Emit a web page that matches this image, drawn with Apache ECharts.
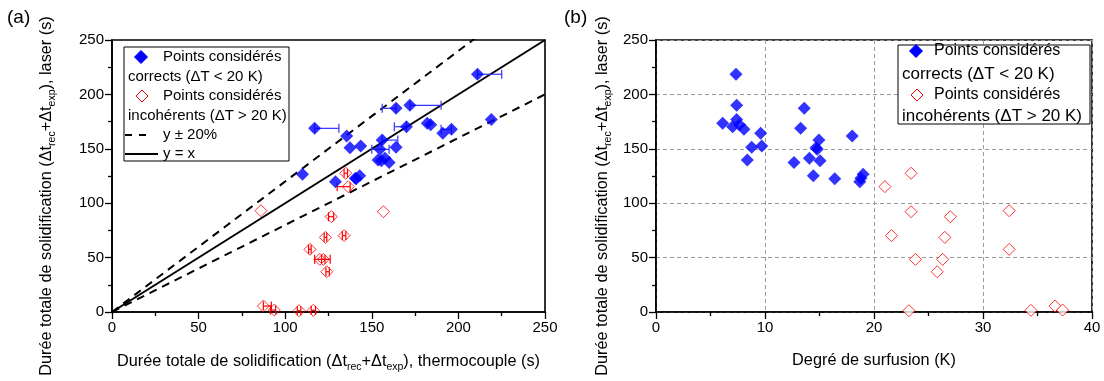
<!DOCTYPE html>
<html><head><meta charset="utf-8">
<script src="https://cdn.jsdelivr.net/npm/echarts/dist/echarts.min.js"></script>
<style>html,body{margin:0;padding:0;background:#fff}#c{width:1104px;height:381px}</style>
</head><body><div id="c"></div>
<script>
// ---- Data ----
// Blue: points considered correct (ΔT < 20 K)
const blueTc    = [211, 172, 164, 219, 182, 184, 170, 117, 196, 191, 135.5, 156, 143.6, 164, 137.4, 154.7, 157.6, 153.6, 160, 155.5, 110, 143, 141, 129, 140.5];
const blueLaser = [218.5, 190, 187.2, 177, 173.4, 172, 170.3, 168.8, 167.9, 164.2, 161.8, 158, 152.5, 151.4, 151, 149.5, 141.2, 139.7, 137.5, 139.1, 126.6, 125.3, 122.5, 119.8, 122.9];
const blueDT    = [7.34, 7.4, 13.6, 7.4, 6.12, 7.65, 7.03, 13.27, 8.07, 9.6, 18.0, 14.95, 9.7, 8.78, 14.68, 14.8, 14.07, 8.38, 12.66, 15.05, 19.0, 14.43, 16.4, 18.7, 18.8];
// horizontal error bars on thermocouple duration [low, high, laser]
const blueErrLow  = [211, 172, 156, 170, 117, 190, 156, 150];
const blueErrHigh = [225, 190, 164, 163, 131, 196, 165, 160];
const blueErrY    = [218.5, 190, 187.2, 170.3, 168.8, 167.9, 158, 149.5];
// Red: points considered incoherent (ΔT > 20 K)
const redTc    = [135, 136.4, 86, 156.7, 126.6, 134, 123.2, 114.3, 120, 122, 124, 87.4, 93.7, 108, 116.2];
const redLaser = [127.5, 115.2, 93.1, 92.2, 87.6, 70.2, 68.6, 57.6, 48.4, 48.4, 37, 5.5, 1.8, 1.2, 1.5];
const redDT    = [23.4, 21.0, 32.4, 23.4, 27.0, 21.6, 26.5, 32.4, 23.8, 26.3, 25.8, 36.6, 37.3, 23.2, 34.4];
const redErrLow  = [134, 130, 125, 133, 122.5, 113.5, 117, 121, 123.5, 87.4, 91.5, 107, 115];
const redErrHigh = [136, 137.5, 128, 135, 124, 115, 126, 123, 125.5, 92, 94.5, 109, 117.5];
const redErrY    = [127.5, 115.2, 87.6, 70.2, 68.6, 57.6, 48.4, 48.4, 37, 5.5, 1.8, 1.2, 1.5];
// Reference lines y = x and y ± 20 %
const refX = [0, 250];
const refSlopes = [1, 1.2, 0.8];
// Axis ranges / ticks
const leftRange = [0, 250, 50];
const rightXRange = [0, 40, 10];
const yRange = [0, 250, 50];

const FONT = 'Liberation Sans, Arial, sans-serif';
const BLUE = '#0000ff', RED = '#ff0000';

const zip = (a, b) => a.map((v, i) => [v, b[i]]);
const zip3 = (a, b, c) => a.map((v, i) => [v, b[i], c[i]]);

const richName = {
  n: {fontSize: 16.3, fontFamily: FONT, color: '#000', lineHeight: 22},
  s: {fontSize: 10.5, fontFamily: FONT, color: '#000', lineHeight: 10, verticalAlign: 'bottom'}
};
const durName = (tail) => '{n|Durée totale de solidification (Δt}{s|rec}{n|+Δt}{s|exp}{n|), ' + tail + '}';

function axis(gridIndex, range, extra, grid) {
  return Object.assign({
    type: 'value', gridIndex, min: range[0], max: range[1], interval: range[2],
    axisLine: {show: true, onZero: false, lineStyle: {color: '#000', width: 1.6}},
    axisTick: {show: true, inside: false, length: 7, lineStyle: {color: '#000', width: 1.3}},
    minorTick: {show: true, splitNumber: 2, length: 4, lineStyle: {color: '#000', width: 1.3}},
    axisLabel: {fontSize: 15, color: '#000', fontFamily: FONT, margin: 8},
    splitLine: grid ? {show: true, lineStyle: {color: '#999', type: [4, 3], width: 1}} : {show: false},
    minorSplitLine: {show: false}
  }, extra);
}

function errRender(color) {
  return function (params, api) {
    const y = api.value(2);
    const p1 = api.coord([api.value(0), y]);
    const p2 = api.coord([api.value(1), y]);
    const h = 4.5;
    const st = {stroke: color, lineWidth: 1.2};
    return {type: 'group', children: [
      {type: 'line', shape: {x1: p1[0], y1: p1[1], x2: p2[0], y2: p2[1]}, style: st},
      {type: 'line', shape: {x1: p1[0], y1: p1[1] - h, x2: p1[0], y2: p1[1] + h}, style: st},
      {type: 'line', shape: {x1: p2[0], y1: p2[1] - h, x2: p2[0], y2: p2[1] + h}, style: st}
    ]};
  };
}

function diamond(cx, cy, r, fill, stroke) {
  return {type: 'polygon', shape: {points: [[cx, cy - r], [cx + r, cy], [cx, cy + r], [cx - r, cy]]},
    style: {fill: fill, stroke: stroke, lineWidth: 1}, z: 100};
}
function txt(x, y, s, size) {
  return {type: 'text', x: x, y: y, z: 100,
    style: {text: s, fontSize: size || 15, fontFamily: FONT, fill: '#000', verticalAlign: 'middle', align: 'left'}};
}
function line(x1, y1, x2, y2, dash) {
  return {type: 'line', z: 100, shape: {x1, y1, x2, y2}, style: {stroke: '#000', lineWidth: 2, lineDash: dash || null}};
}

const chart = echarts.init(document.getElementById('c'), null, {renderer: 'canvas'});
chart.setOption({
  animation: false,
  backgroundColor: '#fff',
  grid: [
    {left: 112, top: 40, width: 433, height: 272, show: true, borderColor: '#000', borderWidth: 1.6, backgroundColor: 'transparent'},
    {left: 656, top: 40, width: 436, height: 272, show: true, borderColor: '#000', borderWidth: 1.6, backgroundColor: 'transparent'}
  ],
  xAxis: [
    axis(0, leftRange, {name: durName('thermocouple (s)'), nameLocation: 'middle', nameGap: 39,
      nameTextStyle: {rich: richName}}, false),
    axis(1, rightXRange, {name: 'Degré de surfusion (K)', nameLocation: 'middle', nameGap: 41,
      nameTextStyle: {fontSize: 16.3, fontFamily: FONT, color: '#000'}}, true)
  ],
  yAxis: [
    axis(0, yRange, {name: durName('laser (s)'), nameLocation: 'middle', nameRotate: 90, nameGap: 54,
      nameTextStyle: {rich: richName, padding: [0, 40, 0, 0]}}, false),
    axis(1, yRange, {name: durName('laser (s)'), nameLocation: 'middle', nameRotate: 90, nameGap: 42,
      nameTextStyle: {rich: richName, padding: [0, 40, 0, 0]}}, true)
  ],
  series: [
    {type: 'line', xAxisIndex: 0, yAxisIndex: 0, data: refX.map(x => [x, x * refSlopes[0]]), symbol: 'none',
      lineStyle: {color: '#000', width: 2}, z: 3, silent: true},
    {type: 'line', xAxisIndex: 0, yAxisIndex: 0, data: refX.map(x => [x, x * refSlopes[1]]), symbol: 'none', clip: true,
      lineStyle: {color: '#000', width: 2, type: [8, 6]}, z: 3, silent: true},
    {type: 'line', xAxisIndex: 0, yAxisIndex: 0, data: refX.map(x => [x, x * refSlopes[2]]), symbol: 'none',
      lineStyle: {color: '#000', width: 2, type: [8, 6]}, z: 3, silent: true},
    {type: 'custom', xAxisIndex: 0, yAxisIndex: 0, data: zip3(blueErrLow, blueErrHigh, blueErrY),
      renderItem: errRender('#3333ff'), encode: {x: [0, 1], y: 2}, z: 4, clip: false},
    {type: 'custom', xAxisIndex: 0, yAxisIndex: 0, data: zip3(redErrLow, redErrHigh, redErrY),
      renderItem: errRender(RED), encode: {x: [0, 1], y: 2}, z: 4, clip: false},
    {type: 'scatter', xAxisIndex: 0, yAxisIndex: 0, data: zip(blueTc, blueLaser), symbol: 'diamond', symbolSize: 13,
      itemStyle: {color: BLUE}, z: 5},
    {type: 'scatter', xAxisIndex: 0, yAxisIndex: 0, data: zip(redTc, redLaser), symbol: 'diamond', symbolSize: 12,
      itemStyle: {color: 'rgba(255,255,255,0)', borderColor: RED, borderWidth: 1}, z: 6},
    {type: 'scatter', xAxisIndex: 1, yAxisIndex: 1, data: zip(blueDT, blueLaser), symbol: 'diamond', symbolSize: 13,
      itemStyle: {color: BLUE}, z: 5},
    {type: 'scatter', xAxisIndex: 1, yAxisIndex: 1, data: zip(redDT, redLaser), symbol: 'diamond', symbolSize: 12,
      itemStyle: {color: '#fff', borderColor: RED, borderWidth: 1}, z: 6}
  ],
  graphic: [
    txt(7, 18, '(a)', 19),
    txt(564, 18, '(b)', 19),
    // left legend
    {type: 'rect', z: 99, shape: {x: 124, y: 47, width: 165, height: 114}, style: {fill: '#fff', stroke: '#000', lineWidth: 1}},
    diamond(141, 57, 6.5, BLUE, BLUE),
    txt(163, 57, 'Points considérés'),
    txt(128, 77, 'corrects (ΔT < 20 K)'),
    diamond(142, 96, 6, '#fff', RED),
    txt(163, 96, 'Points considérés'),
    txt(128, 116, 'incohérents (ΔT > 20 K)'),
    line(125, 135, 153, 135, [7, 7]),
    txt(163, 135, 'y ± 20%'),
    line(125, 154, 158, 154),
    txt(163, 154, 'y = x'),
    // right legend
    {type: 'rect', z: 99, shape: {x: 898, y: 45, width: 192, height: 79}, style: {fill: '#fff', stroke: '#000', lineWidth: 1}},
    diamond(916, 51, 6.5, BLUE, BLUE),
    txt(934, 51, 'Points considérés', 16),
    txt(902, 74, 'corrects (ΔT < 20 K)', 17),
    diamond(917, 95, 6, '#fff', RED),
    txt(934, 95, 'Points considérés', 16),
    txt(902, 116, 'incohérents (ΔT > 20 K)', 17)
  ]
});
</script>
</body></html>
